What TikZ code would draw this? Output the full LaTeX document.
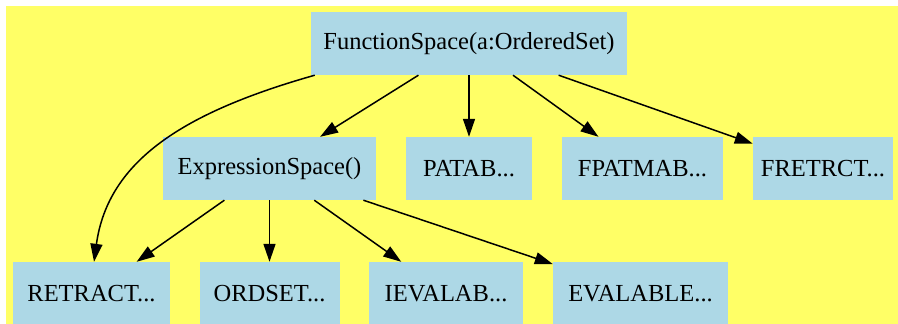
\documentclass[tikz,border=0pt]{standalone}
\usepackage{fontspec}
\setmainfont{Liberation Serif}
\usepackage{xcolor}
\usetikzlibrary{arrows.meta}
\definecolor{bgyellow}{HTML}{FFFF66}
\definecolor{boxblue}{HTML}{ADD8E6}

\begin{document}
\begin{tikzpicture}[
    x=1pt,y=-1pt,
    catbox/.style={rectangle,fill=boxblue,inner sep=0pt,minimum height=63pt,
      font=\fontsize{24.5}{29}\selectfont},
    arrow/.style={-{Triangle[length=18pt,width=12pt]},line width=1.5pt}
  ]
    \useasboundingbox (0,0) rectangle (898,324);
    \fill[bgyellow] (6,6) rectangle (898,324);

    \node[catbox,minimum width=316pt] (fs) at (469,43.5) {FunctionSpace(a:OrderedSet)};

    \node[catbox,minimum width=213pt] (es) at (269.5,168.5) {ExpressionSpace()};
    \node[catbox,minimum width=126pt] (patab) at (469,168.5) {PATAB...};
    \node[catbox,minimum width=161pt] (fpatmab) at (642.5,168.5) {FPATMAB...};
    \node[catbox,minimum width=140pt] (fretrct) at (823,168.5) {FRETRCT...};

    \node[catbox,minimum width=157pt] (retract) at (91.5,293.5) {RETRACT...};
    \node[catbox,minimum width=140pt] (ordset) at (269.5,293.5) {ORDSET...};
    \node[catbox,minimum width=154pt] (ievalab) at (446,293.5) {IEVALAB...};
    \node[catbox,minimum width=175pt] (evalable) at (640.5,293.5) {EVALABLE...};

    \draw[arrow] ([xshift=4pt]fs.south west) .. controls (185,112) and (108,160) .. ([xshift=2.5pt]retract.north);
    \draw[arrow] (fs) -- (es);
    \draw[arrow] (fs) -- (patab);
    \draw[arrow] (fs) -- (fpatmab);
    \draw[arrow] (fs) -- (fretrct);

    \draw[arrow] (es) -- (retract);
    \draw[arrow] (es) -- (ordset);
    \draw[arrow] (es) -- (ievalab);
    \draw[arrow] (es) -- (evalable);
  \end{tikzpicture}
\end{document}
